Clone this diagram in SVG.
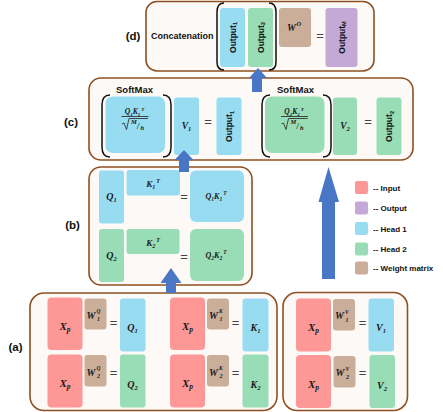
<svg xmlns="http://www.w3.org/2000/svg" width="443" height="412" viewBox="0 0 443 412">
<style>
.frame{fill:#FDF9F6;stroke:#8E5020;stroke-width:1.6}
.blue{fill:#98DCF2}
.green{fill:#98DDB5}
.pink{fill:#FE9896}
.tan{fill:#CAAE9A}
.purple{fill:#C4A8D5}
.m{font-family:"Liberation Serif",serif;font-style:italic;font-weight:bold;fill:#1a1a1a}
.s{font-family:"Liberation Sans",Arial,sans-serif;font-weight:bold;fill:#111}
.eq{font-family:"Liberation Sans",Arial,sans-serif;font-size:13px;fill:#444;text-anchor:middle}
.lbl{font-family:"Liberation Sans",Arial,sans-serif;font-weight:bold;font-size:11.5px;fill:#111;text-anchor:middle}
.br{fill:none;stroke:#111;stroke-width:1.5}
.rad{fill:none;stroke:#222;stroke-width:0.8}
.arr{fill:#4A76C6}
.leg{font-family:"Liberation Sans",Arial,sans-serif;font-weight:bold;font-size:8px;fill:#111}
</style>

<!-- (d) Concatenation -->
<g id="node-d">
<rect class="frame" x="146" y="1.5" width="228" height="69.5" rx="11"/>
<text class="lbl" x="133" y="40">(d)</text>
<text class="s" x="151" y="39" font-size="9">Concatenation</text>
<rect class="blue" x="220" y="8" width="25" height="59" rx="3"/>
<rect class="green" x="248" y="8" width="25" height="59" rx="3"/>
<path class="br" d="M224 3 Q217 3 217 12 L217 62 Q217 70 224 70"/>
<path class="br" d="M269 3 Q276 3 276 12 L276 62 Q276 70 269 70"/>
<text class="s" font-size="8.5" text-anchor="middle" transform="translate(235.5,37.5) rotate(-90)">Output<tspan font-size="5.5" dy="1.5">1</tspan></text>
<text class="s" font-size="8.5" text-anchor="middle" transform="translate(263.5,37.5) rotate(-90)">Output<tspan font-size="5.5" dy="1.5">2</tspan></text>
<rect class="tan" x="279" y="8" width="32" height="39" rx="3"/>
<text class="m" x="287" y="31" font-size="10">W</text>
<text class="m" x="296.5" y="26" font-size="6.5">O</text>
<text class="eq" x="320" y="40">=</text>
<rect class="purple" x="325.5" y="8" width="32" height="59" rx="3"/>
<text class="s" font-size="8.5" text-anchor="middle" transform="translate(344.5,37.5) rotate(-90)">Output<tspan font-size="5.5" dy="1.5">M</tspan></text>
</g>

<!-- (c) SoftMax -->
<g id="node-c">
<rect class="frame" x="89" y="78" width="324" height="82" rx="12"/>
<text class="lbl" x="71" y="126">(c)</text>
<text class="s" x="134.5" y="92.5" font-size="9.5" text-anchor="middle">SoftMax</text>
<rect class="blue" x="105.5" y="96.5" width="59.5" height="56.5" rx="7"/>
<path class="br" d="M110 95 Q102 95 102 105 L102 147 Q102 157 110 157"/>
<path class="br" d="M163 95 Q171 95 171 105 L171 147 Q171 157 163 157"/>
<text class="m" x="134.5" y="114" font-size="7.5" text-anchor="middle">Q<tspan font-size="5" dy="1.5">1</tspan><tspan dy="-1.5">K</tspan><tspan font-size="5" dy="1.5">1</tspan><tspan font-size="5" dx="1" dy="-5">T</tspan></text>
<line class="rad" x1="121.5" y1="116.5" x2="148.5" y2="116.5"/>
<path class="rad" d="M122 124 L124 123 L126.5 129.5 L129 118.5 L148 118.5"/>
<text class="m" x="131" y="124" font-size="6.5">M</text>
<text class="m" x="137" y="128.5" font-size="8" font-style="normal" font-weight="normal">/</text>
<text class="m" x="140.5" y="129.5" font-size="6.5">h</text>
<rect class="blue" x="174" y="97.5" width="25" height="57.5" rx="3"/>
<text class="m" x="186.5" y="129" font-size="9.5" text-anchor="middle">V<tspan font-size="6.5" dy="2">1</tspan></text>
<text class="eq" x="208" y="126">=</text>
<rect class="blue" x="216.5" y="97.5" width="25" height="57.5" rx="3"/>
<text class="s" font-size="8.5" text-anchor="middle" transform="translate(232,126.5) rotate(-90)">Output<tspan font-size="5.5" dy="1.5">1</tspan></text>

<text class="s" x="295.5" y="92.5" font-size="9.5" text-anchor="middle">SoftMax</text>
<rect class="green" x="265" y="96.5" width="59.5" height="56.5" rx="7"/>
<path class="br" d="M270 95 Q262 95 262 105 L262 147 Q262 157 270 157"/>
<path class="br" d="M323 95 Q331 95 331 105 L331 147 Q331 157 323 157"/>
<text class="m" x="294" y="114" font-size="7.5" text-anchor="middle">Q<tspan font-size="5" dy="1.5">2</tspan><tspan dy="-1.5">K</tspan><tspan font-size="5" dy="1.5">2</tspan><tspan font-size="5" dx="1" dy="-5">T</tspan></text>
<line class="rad" x1="281" y1="116.5" x2="308" y2="116.5"/>
<path class="rad" d="M281.5 124 L283.5 123 L286 129.5 L288.5 118.5 L307.5 118.5"/>
<text class="m" x="290.5" y="124" font-size="6.5">M</text>
<text class="m" x="296.5" y="128.5" font-size="8" font-style="normal" font-weight="normal">/</text>
<text class="m" x="300" y="129.5" font-size="6.5">h</text>
<rect class="green" x="333" y="97.5" width="24" height="57.5" rx="3"/>
<text class="m" x="345" y="129" font-size="9.5" text-anchor="middle">V<tspan font-size="6.5" dy="2">2</tspan></text>
<text class="eq" x="368" y="126">=</text>
<rect class="green" x="376.5" y="97.5" width="25" height="57.5" rx="3"/>
<text class="s" font-size="8.5" text-anchor="middle" transform="translate(392,126.5) rotate(-90)">Output<tspan font-size="5.5" dy="1.5">2</tspan></text>
</g>

<!-- (b) QK^T -->
<g id="node-b">
<rect class="frame" x="89" y="167" width="163" height="118" rx="12"/>
<text class="lbl" x="72.5" y="229">(b)</text>
<rect class="blue" x="99" y="170.5" width="25" height="53" rx="3"/>
<text class="m" x="111.5" y="200" font-size="10" text-anchor="middle">Q<tspan font-size="6.5" dy="2">1</tspan></text>
<rect class="blue" x="126.5" y="170" width="53.5" height="25.5" rx="3"/>
<text class="m" x="153" y="187" font-size="9" text-anchor="middle">K<tspan font-size="6" dy="2">1</tspan><tspan font-size="6" dx="1" dy="-6.5">T</tspan></text>
<text class="eq" x="184" y="201">=</text>
<rect class="blue" x="190" y="170.5" width="54" height="51.5" rx="6"/>
<text class="m" x="216" y="199" font-size="8" text-anchor="middle">Q<tspan font-size="5.5" dy="1.5">1</tspan><tspan dy="-1.5">K</tspan><tspan font-size="5.5" dy="1.5">1</tspan><tspan font-size="5.5" dx="1" dy="-5.5">T</tspan></text>

<rect class="green" x="99" y="229" width="25" height="53" rx="3"/>
<text class="m" x="111.5" y="259" font-size="10" text-anchor="middle">Q<tspan font-size="6.5" dy="2">2</tspan></text>
<rect class="green" x="126.5" y="229" width="53" height="25" rx="3"/>
<text class="m" x="153" y="246" font-size="9" text-anchor="middle">K<tspan font-size="6" dy="2">2</tspan><tspan font-size="6" dx="1" dy="-6.5">T</tspan></text>
<text class="eq" x="184" y="260.5">=</text>
<rect class="green" x="190" y="229" width="54" height="52" rx="6"/>
<text class="m" x="216" y="258" font-size="8" text-anchor="middle">Q<tspan font-size="5.5" dy="1.5">2</tspan><tspan dy="-1.5">K</tspan><tspan font-size="5.5" dy="1.5">2</tspan><tspan font-size="5.5" dx="1" dy="-5.5">T</tspan></text>
</g>

<!-- (a) Q and K projections -->
<g id="node-a">
<rect class="frame" x="30" y="293" width="247" height="117.5" rx="14"/>
<text class="lbl" x="15.5" y="351">(a)</text>
<!-- Q column -->
<rect class="pink" x="47.5" y="297.5" width="35" height="52.5" rx="4"/>
<text class="m" x="65" y="329.5" font-size="11" text-anchor="middle">X<tspan font-size="7.5" dy="2">p</tspan></text>
<rect class="tan" x="84.5" y="298.5" width="22" height="31" rx="3"/>
<text class="m" x="86.5" y="318.5" font-size="10">W</text>
<text class="m" x="96.5" y="313" font-size="5.5">Q</text>
<text class="m" x="97" y="321" font-size="6">1</text>
<text class="eq" x="113.5" y="327">=</text>
<rect class="blue" x="120" y="298.5" width="25.5" height="53" rx="3"/>
<text class="m" x="132.5" y="330.5" font-size="10" text-anchor="middle">Q<tspan font-size="6.5" dy="2">1</tspan></text>

<rect class="pink" x="47.5" y="354.5" width="35" height="53" rx="4"/>
<text class="m" x="65" y="387" font-size="11" text-anchor="middle">X<tspan font-size="7.5" dy="2">p</tspan></text>
<rect class="tan" x="84.5" y="355" width="22" height="31.5" rx="3"/>
<text class="m" x="86.5" y="375.5" font-size="10">W</text>
<text class="m" x="96.5" y="370" font-size="5.5">Q</text>
<text class="m" x="97" y="378" font-size="6">2</text>
<text class="eq" x="113.5" y="376.5">=</text>
<rect class="green" x="120" y="354.5" width="25.5" height="53" rx="3"/>
<text class="m" x="132.5" y="388" font-size="10" text-anchor="middle">Q<tspan font-size="6.5" dy="2">2</tspan></text>
<!-- K column -->
<rect class="pink" x="170" y="297.5" width="35" height="52.5" rx="4"/>
<text class="m" x="187.5" y="329.5" font-size="11" text-anchor="middle">X<tspan font-size="7.5" dy="2">p</tspan></text>
<rect class="tan" x="207" y="298.5" width="22" height="31" rx="3"/>
<text class="m" x="209" y="318.5" font-size="10">W</text>
<text class="m" x="219" y="313" font-size="5.5">K</text>
<text class="m" x="219.5" y="321" font-size="6">1</text>
<text class="eq" x="235.5" y="327">=</text>
<rect class="blue" x="242.5" y="298.5" width="26" height="53" rx="3"/>
<text class="m" x="255.5" y="330.5" font-size="10" text-anchor="middle">K<tspan font-size="6.5" dy="2">1</tspan></text>

<rect class="pink" x="170" y="354.5" width="35" height="53" rx="4"/>
<text class="m" x="187.5" y="387" font-size="11" text-anchor="middle">X<tspan font-size="7.5" dy="2">p</tspan></text>
<rect class="tan" x="207" y="355" width="22" height="31.5" rx="3"/>
<text class="m" x="209" y="375.5" font-size="10">W</text>
<text class="m" x="219" y="370" font-size="5.5">K</text>
<text class="m" x="219.5" y="378" font-size="6">2</text>
<text class="eq" x="235.5" y="376.5">=</text>
<rect class="green" x="242.5" y="354.5" width="26" height="53" rx="3"/>
<text class="m" x="255.5" y="388" font-size="10" text-anchor="middle">K<tspan font-size="6.5" dy="2">2</tspan></text>
</g>

<!-- (a) V projection -->
<g id="node-v">
<rect class="frame" x="283" y="292.5" width="124.5" height="118" rx="14"/>
<rect class="pink" x="296" y="298.5" width="35" height="53" rx="4"/>
<text class="m" x="313.5" y="330.5" font-size="11" text-anchor="middle">X<tspan font-size="7.5" dy="2">p</tspan></text>
<rect class="tan" x="333" y="299" width="22" height="31.5" rx="3"/>
<text class="m" x="335" y="319" font-size="10">W</text>
<text class="m" x="345" y="313.5" font-size="5.5">V</text>
<text class="m" x="345.5" y="321.5" font-size="6">1</text>
<text class="eq" x="362.5" y="327">=</text>
<rect class="blue" x="368.5" y="298.5" width="25.5" height="53" rx="3"/>
<text class="m" x="381" y="330.5" font-size="10" text-anchor="middle">V<tspan font-size="6.5" dy="2">1</tspan></text>

<rect class="pink" x="296" y="355" width="35" height="53" rx="4"/>
<text class="m" x="313.5" y="387.5" font-size="11" text-anchor="middle">X<tspan font-size="7.5" dy="2">p</tspan></text>
<rect class="tan" x="333.5" y="356" width="22" height="31.5" rx="3"/>
<text class="m" x="335.5" y="376" font-size="10">W</text>
<text class="m" x="345.5" y="370.5" font-size="5.5">V</text>
<text class="m" x="346" y="378.5" font-size="6">2</text>
<text class="eq" x="362.5" y="376.5">=</text>
<rect class="green" x="369.5" y="355" width="25.5" height="53" rx="3"/>
<text class="m" x="382" y="388.5" font-size="10" text-anchor="middle">V<tspan font-size="6.5" dy="2">2</tspan></text>
</g>

<!-- Legend -->
<g id="legend">
<rect class="pink" x="355" y="181" width="13" height="13" rx="2"/>
<text class="leg" x="373" y="190.5">-- Input</text>
<rect class="purple" x="355" y="201.5" width="13" height="13" rx="2"/>
<text class="leg" x="373" y="211">-- Output</text>
<rect class="blue" x="355" y="222" width="13" height="13" rx="2"/>
<text class="leg" x="373" y="231.5">-- Head 1</text>
<rect class="green" x="355" y="242.5" width="13" height="13" rx="2"/>
<text class="leg" x="373" y="252">-- Head 2</text>
<rect class="tan" x="355" y="261.5" width="13" height="13" rx="2"/>
<text class="leg" x="373" y="271">-- Weight matrix</text>
</g>

<!-- Connectors -->
<g id="connectors">
<polygon class="arr" points="258,68 267,78 262,78 262,92 252,92 252,78 249,78"/>
<polygon class="arr" points="184,150 193.5,160 189,160 189,172 179,172 179,160 174.5,160"/>
<polygon class="arr" points="171,268 181.5,283 176,283 176,293 166,293 166,283 160.5,283"/>
<polygon class="arr" points="328.5,167 339,202 335,202 335,279 322,279 322,202 318.5,202"/>
</g>
</svg>
